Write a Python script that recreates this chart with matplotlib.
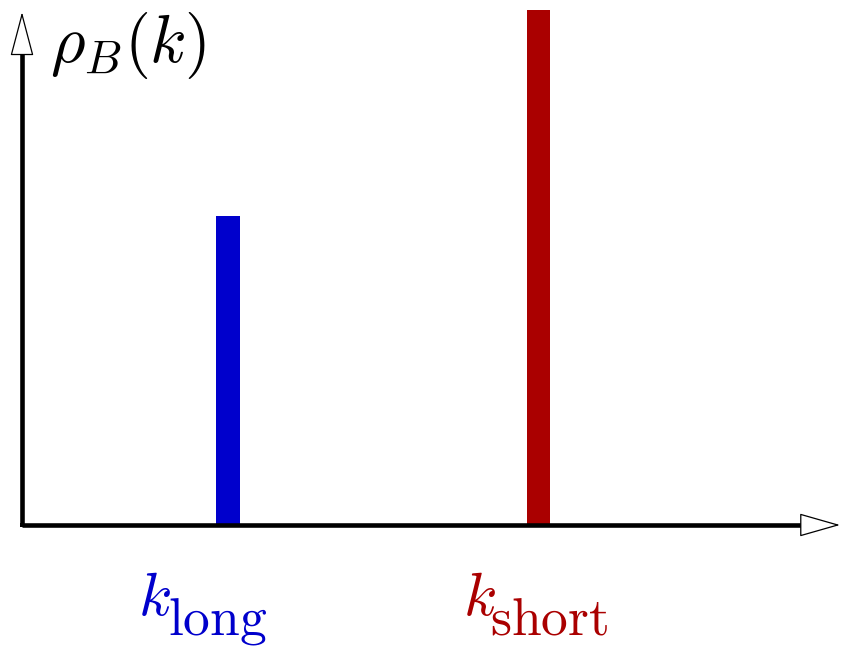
import matplotlib
matplotlib.use('Agg')
import matplotlib.pyplot as plt
from matplotlib.patches import FancyArrowPatch

plt.rcParams['mathtext.fontset'] = 'cm'

# spectrum: two modes, long and short wavelength
subscripts = ['long', 'short']
k_pos = [2.52, 6.31]
rho = [0.60, 1.0]
colors = ['#0000cc', '#aa0000']
label_x = [1.42, 5.39]
sub_x = [1.785, 5.72]

fig = plt.figure(figsize=(8.41, 6.5), dpi=100)
ax = fig.add_axes([22 / 841, 125 / 650, 818 / 841, 515 / 650])
ax.set_xlim(0, 10)
ax.set_ylim(0, 1)
ax.axis('off')

# the two peaks
ax.bar(k_pos, rho, width=0.285, color=colors, zorder=2)

# axes drawn as thick lines with hollow arrow heads
lw = 3.3
ax.plot([0, 9.54], [0, 0], color='black', lw=lw, solid_capstyle='butt',
        clip_on=False, zorder=3)
ax.plot([0, 0], [0, 0.917], color='black', lw=lw, solid_capstyle='butt',
        clip_on=False, zorder=3)
ax.plot([0, 0], [0, 0], color='black', lw=lw, marker='s', ms=lw / 1.0,
        mew=0, clip_on=False, zorder=3)
heads = [((9.52, 0), (10.0, 0), 26.6), ((0, 0.91), (0, 0.996), 28.8)]
for start, end, hl in heads:
    ax.add_patch(FancyArrowPatch(
        start, end, arrowstyle=f'-|>,head_length={hl},head_width=7.6',
        mutation_scale=1, shrinkA=0, shrinkB=0, fc='white', ec='black',
        lw=0.9, clip_on=False, zorder=4))

# labels
ax.text(0.034, 0.899, r'$\rho_B(k)$', transform=ax.transAxes, fontsize=48,
        ha='left', va='baseline')
for x, xs, sub, c in zip(label_x, sub_x, subscripts, colors):
    ax.text(x, -0.175, r'$k$', color=c, fontsize=44, ha='left',
            va='baseline')
    ax.text(xs, -0.212, r'$\mathrm{%s}$' % sub, color=c, fontsize=38.5,
            ha='left', va='baseline')

fig.savefig('out.png', dpi=100)
